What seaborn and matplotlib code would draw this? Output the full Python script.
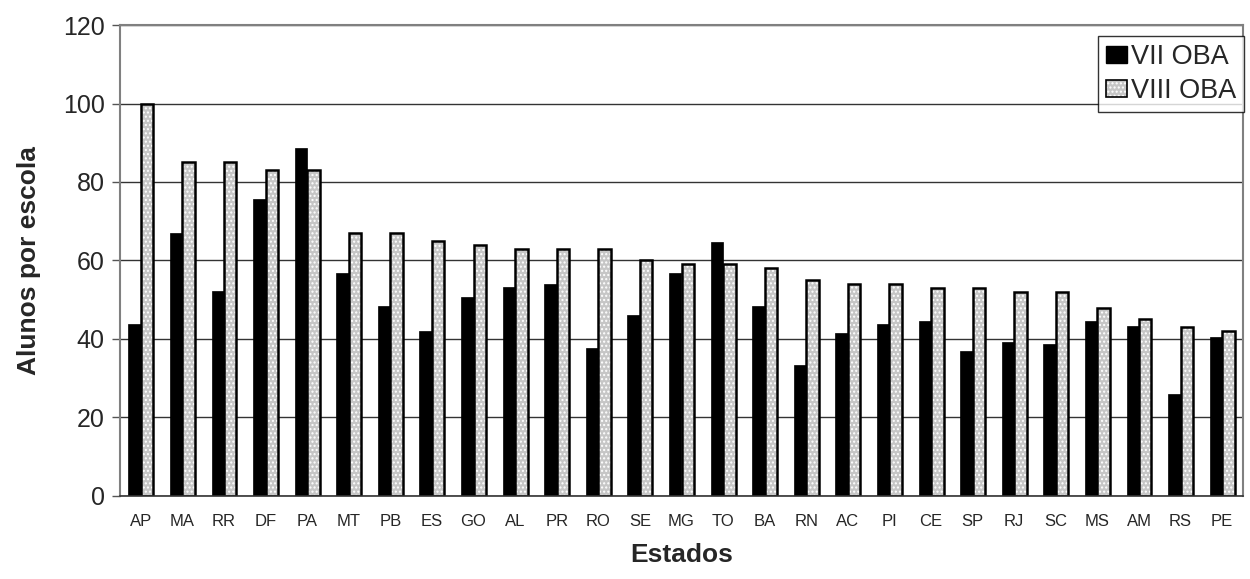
import numpy as np
import pandas as pd
import seaborn as sns
import matplotlib.pyplot as plt

# Estados e alunos por escola
estados = ["AP", "MA", "RR", "DF", "PA", "MT", "PB", "ES", "GO", "AL", "PR", "RO", "SE", "MG",
           "TO", "BA", "RN", "AC", "PI", "CE", "SP", "RJ", "SC", "MS", "AM", "RS", "PE"]
vii_oba = [43.8, 67.1, 52.1, 75.7, 88.7, 56.9, 48.5, 42.1, 50.7, 53.3, 54.1, 37.6, 46.0, 56.7,
           64.8, 48.4, 33.4, 41.4, 43.7, 44.6, 37.0, 39.2, 38.7, 44.6, 43.2, 26.0, 40.4]
viii_oba = [100, 85, 85, 83, 83, 67, 67, 65, 64, 63, 63, 63, 60, 59,
            59, 58, 55, 54, 54, 53, 53, 52, 52, 48, 45, 43, 42]
series = ["VII OBA", "VIII OBA"]

df = pd.DataFrame({
    "Estado": estados * 2,
    "Alunos": vii_oba + viii_oba,
    "Edicao": [series[0]] * len(estados) + [series[1]] * len(estados),
})

sns.set_style("white")
plt.rcParams["font.family"] = ["Liberation Sans", "DejaVu Sans"]

fig = plt.figure(figsize=(12.5, 5.79), dpi=100)
ax = fig.add_axes([0.096, 0.1434, 0.8984, 0.8134])

sns.barplot(data=df, x="Estado", y="Alunos", hue="Edicao", order=estados,
            hue_order=series, palette=["black", "#c6c6c6"], width=0.6, gap=0,
            saturation=1, ax=ax)


def style_viii(p):
    p.set_edgecolor("black")
    p.set_linewidth(1.8)
    p.set_hatch("....")
    p._hatch_color = (1, 1, 1, 1)


n = len(estados)
for p in ax.patches[:n]:
    p.set_edgecolor("black")
    p.set_linewidth(0.5)
for p in ax.patches[n:2 * n]:
    style_viii(p)

ax.set_ylim(0, 120)
ax.set_xlim(-0.5, n - 0.5)
ax.set_yticks(np.arange(0, 121, 20))
ax.yaxis.grid(True, color="#333333", linewidth=1)
ax.set_axisbelow(True)

ax.set_xticks(np.arange(n))
ax.set_xticks(np.arange(n + 1) - 0.5, minor=True)
ax.tick_params(axis="x", which="major", length=0, labelsize=12, pad=13)
ax.tick_params(axis="x", which="minor", length=5, width=1, color="#555555", direction="out")
ax.tick_params(axis="y", labelsize=18, length=6, width=1, color="#555555", left=True, pad=5)

for side in ["left", "top", "right", "bottom"]:
    ax.spines[side].set_visible(True)
    ax.spines[side].set_color("#808080")
    ax.spines[side].set_linewidth(1.5)
ax.spines["bottom"].set_color("#333333")
ax.spines["bottom"].set_linewidth(1.2)

ax.set_xlabel("Estados", fontsize=19, fontweight="bold", labelpad=10)
ax.set_ylabel("Alunos por escola", fontsize=19, fontweight="bold", labelpad=16)

leg = ax.legend(loc="upper right", bbox_to_anchor=(1.001, 0.977), fontsize=19.5, frameon=True,
                fancybox=False, edgecolor="black", handlelength=0.75, handleheight=0.6,
                handletextpad=0.15, borderpad=0.3, labelspacing=0.3, borderaxespad=0)
leg.get_frame().set_linewidth(1)
leg.set_title(None)
handles = leg.legend_handles
handles[0].set_edgecolor("black")
style_viii(handles[1])
handles[1].set_linewidth(1.2)

fig.savefig("out.png", dpi=100)
